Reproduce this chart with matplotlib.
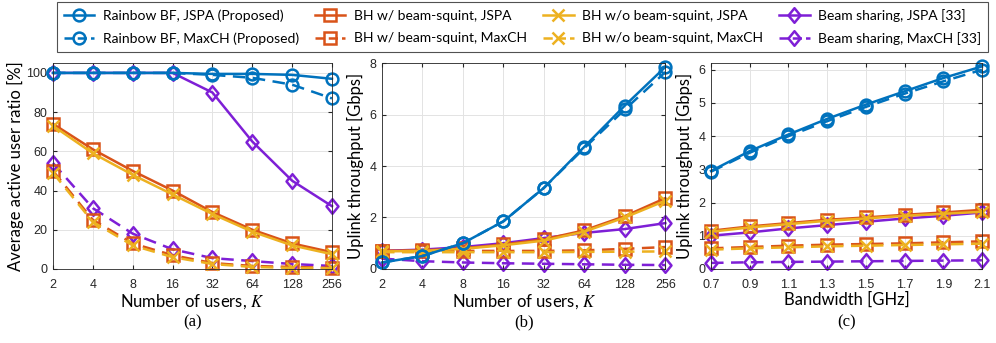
import numpy as np
import matplotlib.pyplot as plt
from matplotlib.lines import Line2D
from matplotlib.path import Path

# ---- data ----
users = [2, 4, 8, 16, 32, 64, 128, 256]
bandwidth = [0.7, 0.9, 1.1, 1.3, 1.5, 1.7, 1.9, 2.1]

# (a) average active user ratio [%]
a_rb_jspa = [100, 100, 100, 100, 99.5, 99.5, 99, 97]
a_rb_maxch = [100, 100, 100, 100, 99, 97.5, 94, 87]
a_bhw_jspa = [74, 61, 50, 40, 29, 20, 13, 8.5]
a_bhw_maxch = [50, 25, 13, 7, 3, 1.5, 1, 0.5]
a_bho_jspa = [73, 59, 48, 38, 28, 19, 12, 7.5]
a_bho_maxch = [49, 24, 12, 6, 2.5, 1, 0.5, 0.3]
a_bs_jspa = [100, 100, 100, 100, 90, 65, 45, 32]
a_bs_maxch = [54, 31, 18, 10, 5.5, 4, 2.5, 1.5]

# (b) uplink throughput [Gbps] vs K
b_rb_jspa = [0.25, 0.5, 1.0, 1.85, 3.15, 4.75, 6.35, 7.85]
b_rb_maxch = [0.25, 0.5, 1.0, 1.85, 3.15, 4.7, 6.2, 7.65]
b_bhw_jspa = [0.7, 0.72, 0.8, 0.95, 1.15, 1.5, 2.05, 2.75]
b_bhw_maxch = [0.7, 0.7, 0.7, 0.7, 0.7, 0.72, 0.78, 0.85]
b_bho_jspa = [0.68, 0.7, 0.78, 0.92, 1.1, 1.45, 2.0, 2.65]
b_bho_maxch = [0.65, 0.65, 0.65, 0.65, 0.65, 0.66, 0.67, 0.68]
b_bs_jspa = [0.7, 0.75, 0.85, 1.0, 1.2, 1.4, 1.55, 1.78]
b_bs_maxch = [0.4, 0.3, 0.25, 0.22, 0.2, 0.18, 0.16, 0.15]

# (c) uplink throughput [Gbps] vs bandwidth
c_rb_jspa = [2.95, 3.55, 4.05, 4.52, 4.95, 5.35, 5.75, 6.1]
c_rb_maxch = [2.93, 3.5, 4.0, 4.45, 4.88, 5.28, 5.65, 6.0]
c_bhw_jspa = [1.15, 1.28, 1.38, 1.48, 1.55, 1.63, 1.7, 1.78]
c_bhw_maxch = [0.62, 0.66, 0.7, 0.73, 0.75, 0.77, 0.8, 0.83]
c_bho_jspa = [1.12, 1.25, 1.35, 1.45, 1.52, 1.6, 1.66, 1.72]
c_bho_maxch = [0.58, 0.62, 0.65, 0.68, 0.7, 0.72, 0.74, 0.76]
c_bs_jspa = [1.0, 1.1, 1.22, 1.32, 1.42, 1.52, 1.6, 1.7]
c_bs_maxch = [0.18, 0.2, 0.21, 0.22, 0.23, 0.24, 0.25, 0.26]

labels = ['Rainbow BF, JSPA (Proposed)', 'Rainbow BF, MaxCH (Proposed)',
          'BH w/ beam-squint, JSPA', 'BH w/ beam-squint, MaxCH',
          'BH w/o beam-squint, JSPA', 'BH w/o beam-squint, MaxCH',
          'Beam sharing, JSPA [33]', 'Beam sharing, MaxCH [33]']

BLUE = '#0072BD'
ORANGE = '#D95319'
YELLOW = '#EDB120'
PURPLE = '#7E1FD6'

# matlab-like diamond: a bit taller than wide
DIAMOND = Path([(0, 1), (0.82, 0), (0, -1), (-0.82, 0), (0, 1)],
               [Path.MOVETO, Path.LINETO, Path.LINETO, Path.LINETO, Path.CLOSEPOLY])

styles = [
    dict(color=BLUE, marker='o', ls='-'),
    dict(color=BLUE, marker='o', ls='--'),
    dict(color=ORANGE, marker='s', ls='-'),
    dict(color=ORANGE, marker='s', ls='--'),
    dict(color=YELLOW, marker='x', ls='-'),
    dict(color=YELLOW, marker='x', ls='--'),
    dict(color=PURPLE, marker=DIAMOND, ls='-'),
    dict(color=PURPLE, marker=DIAMOND, ls='--'),
]
# drawing order: beam sharing, BH, rainbow on top
draw_order = [6, 7, 2, 3, 4, 5, 0, 1]

plt.rcParams['font.family'] = ['Liberation Sans', 'DejaVu Sans']
plt.rcParams['mathtext.fontset'] = 'stix'

fig = plt.figure(figsize=(9.96, 3.43), dpi=100)
ax_a = fig.add_axes([0.0532, 0.216, 0.2801, 0.600])
ax_b = fig.add_axes([0.3835, 0.216, 0.2845, 0.600])
ax_c = fig.add_axes([0.7139, 0.216, 0.2720, 0.600])

lab_font = dict(family=['Lato', 'DejaVu Sans'], fontsize=12)


def msize(st):
    return 10.5 if st['marker'] is DIAMOND else 8.5


def draw(ax, x, series):
    for i in draw_order:
        st = styles[i]
        ax.plot(x, series[i], color=st['color'], marker=st['marker'], ls=st['ls'],
                lw=1.8, ms=msize(st), mfc='none', mew=1.8,
                dashes=(5, 3) if st['ls'] == '--' else (None, None), clip_on=False)
    ax.grid(True, color='#e3e3e3', lw=0.7)
    ax.set_axisbelow(True)
    ax.tick_params(direction='in', top=True, right=True, labelsize=9,
                   length=3, colors='#262626', pad=4)
    ax.tick_params(axis='x', pad=7)
    for s in ax.spines.values():
        s.set_color('#262626')
        s.set_linewidth(0.6)


# (a)
draw(ax_a, users, [a_rb_jspa, a_rb_maxch, a_bhw_jspa, a_bhw_maxch,
                   a_bho_jspa, a_bho_maxch, a_bs_jspa, a_bs_maxch])
ax_a.set_xscale('log', base=2)
ax_a.set_xticks(users)
ax_a.set_xticklabels([str(u) for u in users])
ax_a.minorticks_off()
ax_a.set_xlim(2, 256)
ax_a.set_ylim(0, 105)
ax_a.set_yticks([0, 20, 40, 60, 80, 100])
ax_a.set_ylabel('Average active user ratio [%]', labelpad=2, **lab_font)
ax_a.set_xlabel('Number of users, $K$', labelpad=1, **lab_font)

# (b)
draw(ax_b, users, [b_rb_jspa, b_rb_maxch, b_bhw_jspa, b_bhw_maxch,
                   b_bho_jspa, b_bho_maxch, b_bs_jspa, b_bs_maxch])
ax_b.set_xscale('log', base=2)
ax_b.set_xticks(users)
ax_b.set_xticklabels([str(u) for u in users])
ax_b.minorticks_off()
ax_b.set_xlim(2, 256)
ax_b.set_ylim(0, 8)
ax_b.set_yticks([0, 2, 4, 6, 8])
ax_b.set_ylabel('Uplink throughput [Gbps]', labelpad=4, **lab_font)
ax_b.set_xlabel('Number of users, $K$', labelpad=1, **lab_font)

# (c)
draw(ax_c, bandwidth, [c_rb_jspa, c_rb_maxch, c_bhw_jspa, c_bhw_maxch,
                       c_bho_jspa, c_bho_maxch, c_bs_jspa, c_bs_maxch])
ax_c.set_xticks(bandwidth)
ax_c.set_xticklabels([f'{b:.1f}' for b in bandwidth])
ax_c.set_xlim(0.7, 2.1)
ax_c.set_ylim(0, 6.2)
ax_c.set_yticks([0, 1, 2, 3, 4, 5, 6])
ax_c.set_ylabel('Uplink throughput [Gbps]', labelpad=4, **lab_font)
ax_c.set_xlabel('Bandwidth [GHz]', labelpad=1, **lab_font)

for ax, tag in zip([ax_a, ax_b, ax_c], ['(a)', '(b)', '(c)']):
    ax.text(0.5, -0.262, tag, transform=ax.transAxes, ha='center', va='center',
            family=['Liberation Serif'], fontsize=12)

handles = [Line2D([], [], color=st['color'], marker=st['marker'], ls=st['ls'],
                  lw=1.8, ms=msize(st), mfc='none', mew=1.8)
           for st in styles]
leg = fig.legend(handles, labels, ncol=4, loc='upper left',
                 bbox_to_anchor=(0.057, 0.994, 0.935, 0.0), mode='expand',
                 borderaxespad=0,
                 prop=dict(family=['Lato', 'DejaVu Sans'], size=10),
                 frameon=True, fancybox=False, edgecolor='#262626',
                 handlelength=2.2, handletextpad=0.6, borderpad=0.5,
                 labelspacing=0.75, columnspacing=1.0)
leg.get_frame().set_linewidth(0.8)

fig.savefig('out.png', dpi=100)
